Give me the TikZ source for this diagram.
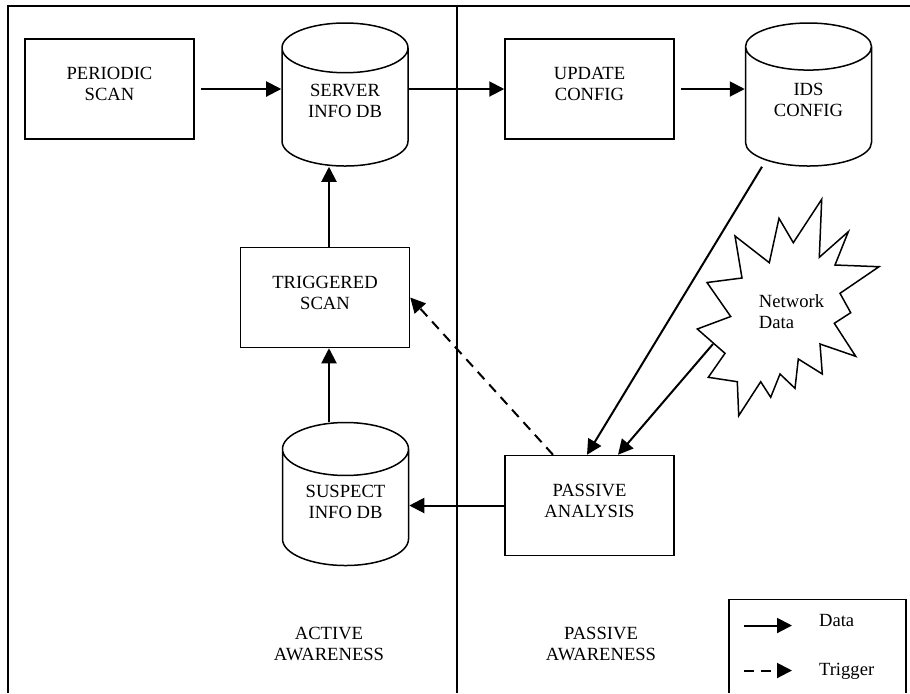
\documentclass[tikz,border=0pt]{standalone}
\usepackage{fontspec}
\setmainfont{Liberation Serif}
\usetikzlibrary{shapes.geometric,arrows.meta,positioning}

\begin{document}
\begin{tikzpicture}[x=0.5pt,y=-0.5pt,
      every node/.style={font=\fontsize{9.3}{10.5}\selectfont},
      procbox/.style={draw,line width=0.75pt,minimum width=84.5pt,minimum height=50pt,align=center,text depth=5pt},
      store/.style={draw,line width=0.75pt,cylinder,shape border rotate=90,aspect=0.57,minimum width=63pt,minimum height=71.5pt,align=center,anchor=shape center,text depth=12pt},
      data/.style={line width=1pt,-{Triangle[length=7.5pt,width=7.5pt]}},
      trigger/.style={data,dash pattern=on 5pt off 3.5pt},
    ]
        \useasboundingbox (0,0) rectangle (910,693);
        % frame and divider
        \draw[line width=0.7pt] (8,693) -- (8,6) -- (910,6);
        \draw[line width=0.7pt] (457,6) -- (457,693);

        \node[procbox] (periodic) at (109.5,89) {PERIODIC\\SCAN};
        \node[store] (server) at (345,94.5) {SERVER\\INFO DB};
        \node[procbox] (update) at (589.5,89) {UPDATE\\CONFIG};
        \node[store] (ids) at (808.5,94.5) {IDS\\CONFIG};
        \node[procbox] (triggered) at (325,297.5) {TRIGGERED\\SCAN};
        \node[store] (suspect) at (345.5,494) {SUSPECT\\INFO DB};
        \node[procbox] (passive) at (589.5,505.5) {PASSIVE\\ANALYSIS};

        % network data burst
        \draw[line width=0.75pt] (821.7,199.3) -- (819.3,257.3) -- (848.3,231.7) -- (835,265)
            -- (879,266.7) -- (840,293.3) -- (850.7,312.7) -- (834.3,323.3)
            -- (855.7,356.3) -- (820,344) -- (822.3,374) -- (798.3,359)
            -- (795,388.3) -- (780,374) -- (770.7,397.3) -- (760.7,381.7)
            -- (738.7,415.7) -- (737.3,381.7) -- (708.3,377.3) -- (725,353.3)
            -- (697.3,329) -- (730.7,316.5) -- (707,282.5) -- (742,278)
            -- (735,236) -- (769.3,262.7) -- (779,218.3) -- (793.3,242.7) -- cycle;
        \node[align=left] (netdata) at (791.5,312) {Network\\Data};
        \coordinate (netout) at (713,344);

        \node[align=center] (activelbl) at (329,644) {ACTIVE\\AWARENESS};
        \node[align=center] (passivelbl) at (601,644) {PASSIVE\\AWARENESS};

        % connectors
        \draw[data] ([xshift=3pt]periodic.east) -- (periodic.east -| server.west);
        \draw[data] (server.east |- update.west) -- (update.west);
        \draw[data] ([xshift=3pt]update.east) -- (update.east -| ids.west);
        \draw[data] ([xshift=2pt]triggered.north) -- ([xshift=2pt]triggered.north |- server.south);
        \draw[data] ([xshift=2pt]triggered.south |- suspect.north) -- ([xshift=2pt]triggered.south);
        \draw[data] (passive.west) -- (passive.west -| suspect.east);
        \draw[trigger] ([xshift=-18.25pt]passive.north) -- (triggered.east);
        \draw[data] ([xshift=-23.25pt]ids.south) -- ([xshift=-1.25pt]passive.north);
        \draw[data] (netout) -- ([xshift=14.25pt]passive.north);

        % legend
        \draw[line width=0.75pt] (729,693) -- (729,599.5) -- (906,599.5) -- (906,693);
        \coordinate (keydataa) at (744,625.5);
        \coordinate (keydatab) at (792,625.5);
        \coordinate (keytriga) at (744,670.5);
        \coordinate (keytrigb) at (792,670.5);
        \draw[data] (keydataa) -- (keydatab);
        \draw[trigger] (keytriga) -- (keytrigb);
        \node[anchor=base west] (keydata) at (812,626.5) {Data};
        \node[anchor=base west] (keytrig) at (812,675) {Trigger};
\end{tikzpicture}
\end{document}
